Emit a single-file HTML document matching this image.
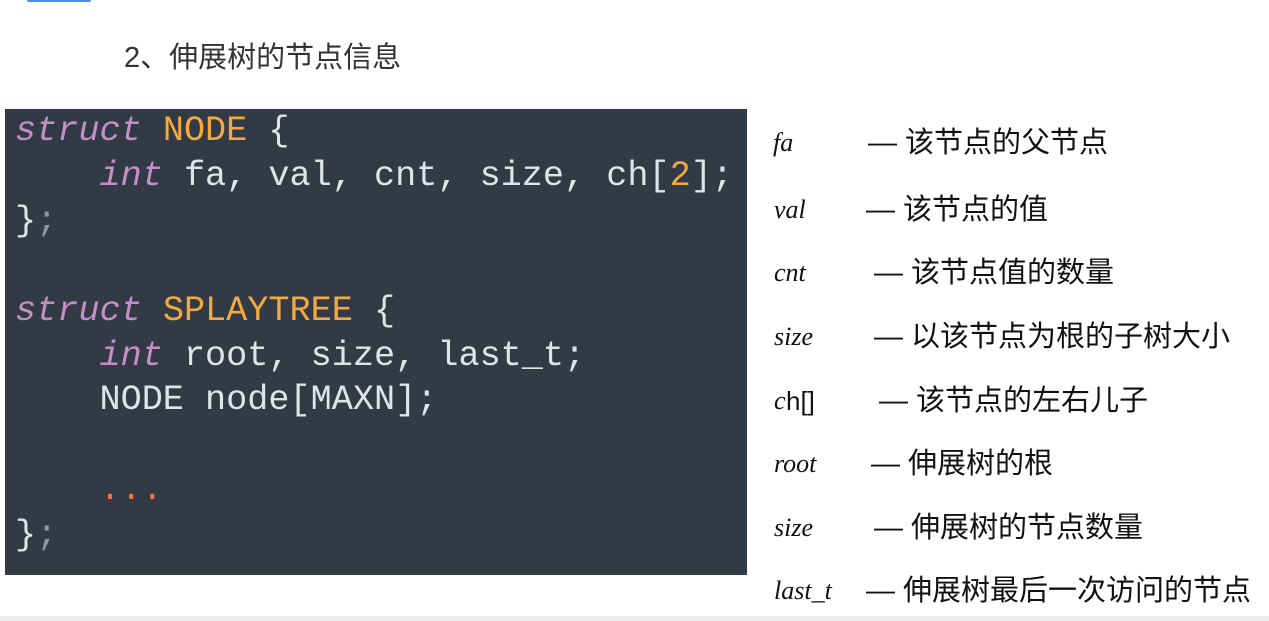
<!DOCTYPE html>
<html><head><meta charset="utf-8"><style>
body{margin:0;width:1269px;height:621px;background:#fff;position:relative;overflow:hidden;font-family:"Liberation Sans","Noto Sans CJK SC",sans-serif}
.bar{position:absolute;left:27px;top:0;width:64px;height:2px;background:#4a8ef0;border-radius:0 0 3px 3px}
.title{position:absolute;left:124px;top:40px;font-size:29px;line-height:36px;color:#333}
.code{position:absolute;left:5px;top:109px;width:742px;height:466px;background:#323a45}
pre{margin:0;position:absolute;left:10px;top:0;font-family:"Liberation Mono",monospace;font-size:35.2px;line-height:44.9px;color:#dfe3ea}
.k{color:#c48fc4;font-style:italic}.t{color:#f3a93f}.p{color:#8e97a3}.n{color:#f3a93f}.d{color:#f0704a}
.r{position:absolute;left:0;width:1269px;height:36px;line-height:36px;font-size:29px;color:#111;white-space:nowrap}
.r i{font-family:"Liberation Serif",serif;font-size:26px;position:absolute;left:774px;top:0}
.r span{position:absolute;top:0}
.bot{position:absolute;left:0;top:616px;width:1269px;height:5px;background:#ececec}
</style></head><body>
<div class="bar"></div>
<div class="title">2、伸展树的节点信息</div>
<div class="code"><pre><span class="k">struct</span> <span class="t">NODE</span> {
    <span class="k">int</span> fa, val, cnt, size, ch[<span class="n">2</span>];
}<span class="p">;</span>

<span class="k">struct</span> <span class="t">SPLAYTREE</span> {
    <span class="k">int</span> root, size, last_t;
    NODE node[MAXN];

    <span class="d">...</span>
}<span class="p">;</span></pre></div>
<div class="r" style="top:125px"><i style="left:773px">fa</i><span style="left:868px">— 该节点的父节点</span></div>
<div class="r" style="top:192px"><i>val</i><span style="left:866px">— 该节点的值</span></div>
<div class="r" style="top:255px"><i>cnt</i><span style="left:874px">— 该节点值的数量</span></div>
<div class="r" style="top:319px"><i>size</i><span style="left:874px">— 以该节点为根的子树大小</span></div>
<div class="r" style="top:383px"><i>c</i><span style="left:786px;font-size:26px">h[]</span><span style="left:879px">— 该节点的左右儿子</span></div>
<div class="r" style="top:446px"><i>root</i><span style="left:871px">— 伸展树的根</span></div>
<div class="r" style="top:510px"><i>size</i><span style="left:874px">— 伸展树的节点数量</span></div>
<div class="r" style="top:573px"><i>last_t</i><span style="left:866px">— 伸展树最后一次访问的节点</span></div>
<div class="bot"></div>
</body></html>
